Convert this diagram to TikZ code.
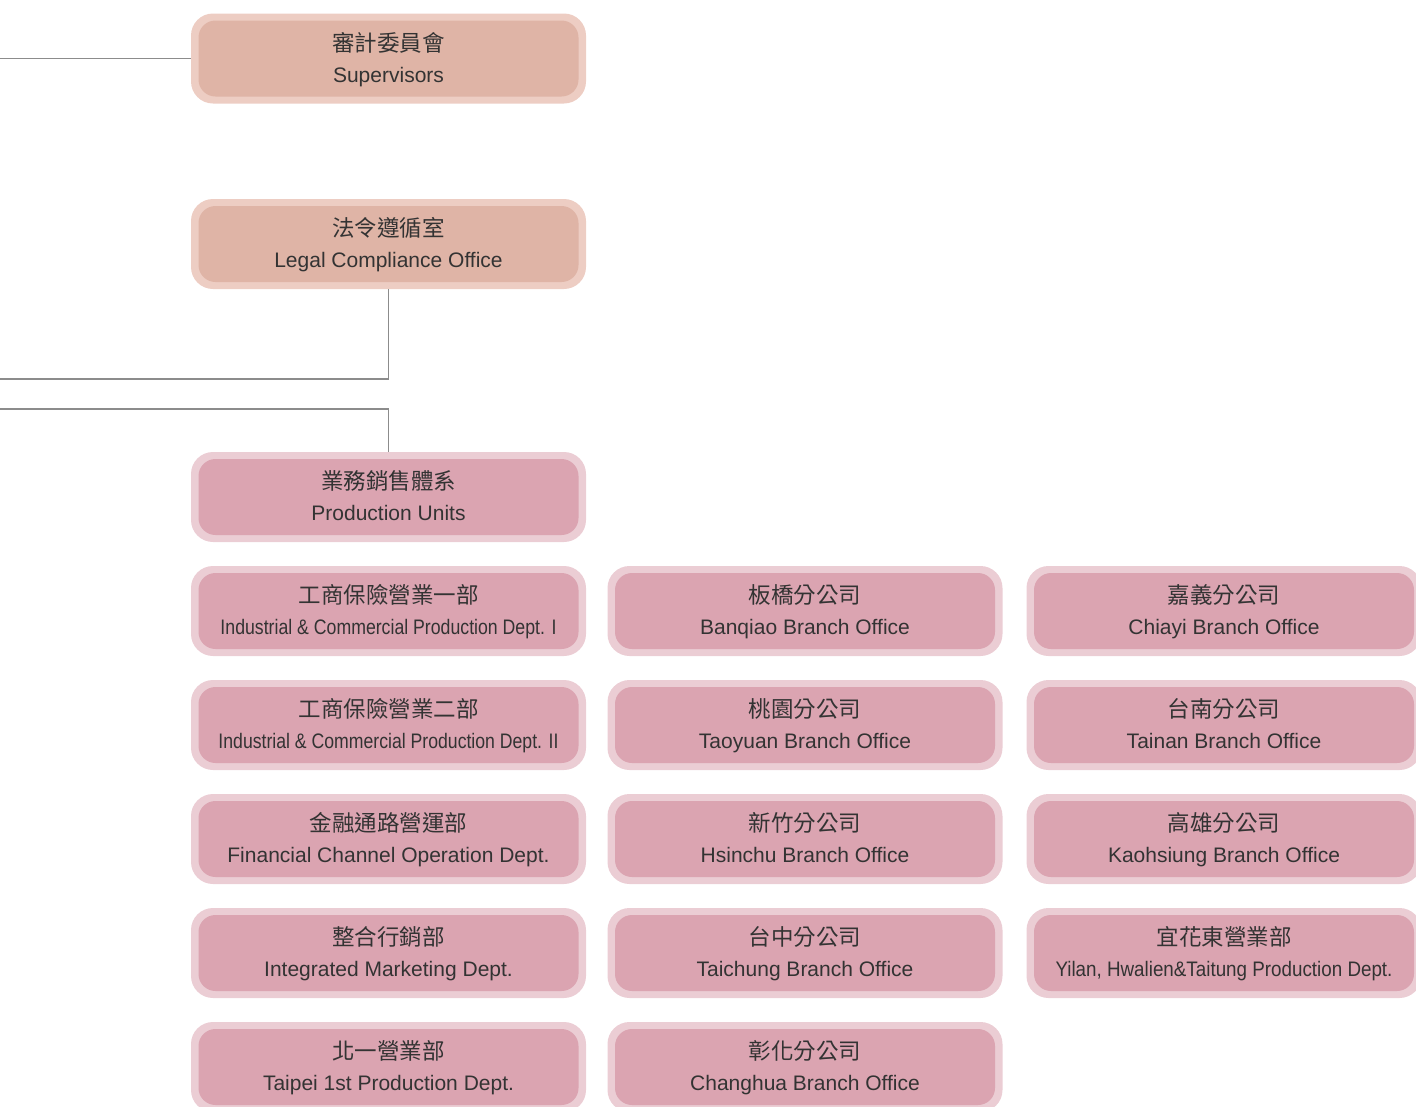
\documentclass[tikz,border=0pt]{standalone}
\usepackage{fontspec}
\setmainfont{Liberation Sans}
\newfontfamily\cjk{Noto Sans CJK TC}
\usepackage{graphicx}
\definecolor{salmonout}{HTML}{EDCDC3}
\definecolor{salmonin}{HTML}{DFB4A6}
\definecolor{roseout}{HTML}{EBCDD4}
\definecolor{rosein}{HTML}{DBA4B1}
\definecolor{txtgray}{HTML}{333333}
\definecolor{linegray}{HTML}{8C8C8C}
\tikzset{
  boxbase/.style={rectangle, inner sep=0pt},
  salmonouter/.style={boxbase, minimum width=395pt, minimum height=90pt, rounded corners=22pt, fill=salmonout},
  salmoninner/.style={boxbase, minimum width=380pt, minimum height=76pt, rounded corners=17pt, fill=salmonin},
  roseouter/.style={boxbase, minimum width=395pt, minimum height=90pt, rounded corners=22pt, fill=roseout},
  roseinner/.style={boxbase, minimum width=380pt, minimum height=76pt, rounded corners=17pt, fill=rosein},
  cjktxt/.style={anchor=base, inner sep=0pt, text=txtgray, font=\cjk\fontsize{22.5}{27}\selectfont},
  entxt/.style={anchor=base, inner sep=0pt, text=txtgray, font=\fontsize{21}{25}\selectfont},
  conn/.style={draw=linegray, line width=1.3pt},
}
\newcommand\orgbox[6]{%
  \node[#4outer] (#1) at (#2,#3) {};
  \node[#4inner] (#1in) at (#1) {};
  \node[cjktxt] (#1zh) at ([yshift=7.5pt]#1) {#5};
  \node[entxt] (#1en) at ([yshift=-23.5pt]#1) {#6};
}
\newcommand\squeeze[2]{\resizebox{#1}{\height}{#2}}
\begin{document}
\begin{tikzpicture}[x=1pt,y=-1pt]
\useasboundingbox (0,0) rectangle (1416,1106);
\begin{scope}
\clip (0,0) rectangle (1416,1106);
% column 1
\orgbox{sup}{388.5}{58.5}{salmon}{審計委員會}{Supervisors}
\orgbox{legal}{388.5}{244}{salmon}{法令遵循室}{Legal Compliance Office}
\orgbox{prod}{388.5}{497}{rose}{業務銷售體系}{Production Units}
\orgbox{icone}{388.5}{611}{rose}{工商保險營業一部}{\squeeze{336pt}{Industrial \& Commercial Production Dept. I}}
\orgbox{ictwo}{388.5}{725}{rose}{工商保險營業二部}{\squeeze{340pt}{Industrial \& Commercial Production Dept. II}}
\orgbox{fin}{388.5}{839}{rose}{金融通路營運部}{Financial Channel Operation Dept.}
\orgbox{integ}{388.5}{953}{rose}{整合行銷部}{Integrated Marketing Dept.}
\orgbox{taipei}{388.5}{1067}{rose}{北一營業部}{Taipei 1st Production Dept.}
% column 2
\orgbox{banqiao}{805}{611}{rose}{板橋分公司}{Banqiao Branch Office}
\orgbox{taoyuan}{805}{725}{rose}{桃園分公司}{Taoyuan Branch Office}
\orgbox{hsinchu}{805}{839}{rose}{新竹分公司}{Hsinchu Branch Office}
\orgbox{taichung}{805}{953}{rose}{台中分公司}{Taichung Branch Office}
\orgbox{changhua}{805}{1067}{rose}{彰化分公司}{Changhua Branch Office}
% column 3
\orgbox{chiayi}{1224}{611}{rose}{嘉義分公司}{Chiayi Branch Office}
\orgbox{tainan}{1224}{725}{rose}{台南分公司}{Tainan Branch Office}
\orgbox{kaohsiung}{1224}{839}{rose}{高雄分公司}{Kaohsiung Branch Office}
\orgbox{yilan}{1224}{953}{rose}{宜花東營業部}{\squeeze{337pt}{Yilan, Hwalien\&Taitung Production Dept.}}
% connectors
\coordinate (supL) at (0,58.5);
\coordinate (legL) at (0,379);
\coordinate (prodL) at (0,409);
\draw[conn] (sup.west) -- (supL);
\draw[conn] (legal.south) |- (legL);
\draw[conn] (prodL) -| (prod.north);
\end{scope}
\end{tikzpicture}
\end{document}
